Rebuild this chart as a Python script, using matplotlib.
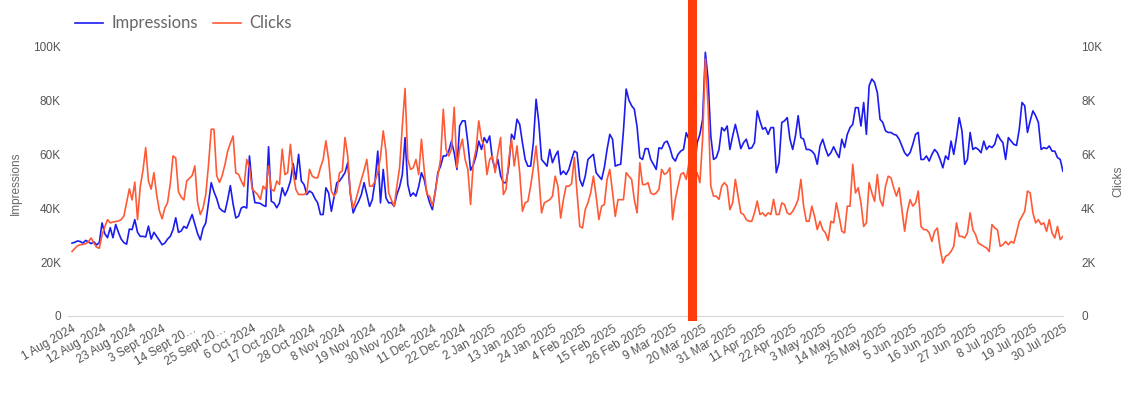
import pandas as pd
import matplotlib
matplotlib.use('Agg')
import matplotlib.pyplot as plt
import matplotlib.ticker as mticker

plt.rcParams['font.family'] = ['Liberation Sans', 'DejaVu Sans']

# daily values, 1 Aug 2024 - 30 Jul 2025 (thousands)
start_date = '2024-08-01'

impressions_k = [
    # Aug
    27.0, 27.3, 27.8, 27.6, 27.0, 28.0, 27.5, 26.8, 27.5, 26.3, 27.2, 34.5, 30.5, 29.0, 32.7, 29.0,
    33.9, 31.0, 28.5, 27.2, 26.6, 32.2, 32.0, 35.7, 31.0, 29.5, 29.5, 29.3, 33.3, 28.5, 31.0,
    # Sep
    29.5, 28.0, 26.4, 27.0, 28.5, 29.5, 32.0, 36.4, 31.0, 31.5, 33.2, 32.5, 35.0, 37.6, 34.0,
    30.5, 28.2, 32.5, 34.5, 42.0, 49.4, 46.0, 43.5, 40.0, 39.0, 38.5, 43.0, 48.3, 41.5, 36.3,
    # Oct
    37.0, 40.0, 40.5, 40.0, 59.3, 48.0, 42.0, 41.9, 41.7, 41.0, 40.6, 62.7, 42.5, 41.9, 40.1, 41.9,
    47.5, 44.6, 46.8, 50.0, 56.5, 50.6, 59.9, 50.0, 48.7, 45.0, 46.3, 45.6, 43.5, 41.9, 37.6,
    # Nov
    37.6, 47.5, 45.6, 38.8, 44.0, 49.4, 50.0, 51.5, 53.1, 56.8, 45.0, 38.2, 40.6, 42.5, 45.0,
    49.4, 45.0, 40.6, 43.1, 50.0, 61.1, 41.9, 54.3, 43.8, 41.9, 42.0, 40.6, 45.0, 47.9, 52.4,
    # Dec
    66.1, 48.7, 44.4, 45.6, 44.4, 48.0, 53.1, 50.6, 45.6, 42.0, 39.4, 45.6, 53.1, 55.5, 59.3, 59.3,
    61.1, 64.8, 60.5, 54.3, 70.4, 72.3, 72.3, 64.2, 54.0, 56.0, 59.3, 64.8, 61.7, 66.1, 64.2,
    # Jan
    66.7, 58.0, 54.3, 58.0, 52.0, 49.4, 49.4, 55.5, 67.3, 65.5, 72.9, 71.0, 64.2, 58.0, 55.5, 55.5,
    64.2, 80.3, 71.7, 58.0, 56.8, 55.5, 61.7, 56.8, 59.3, 61.1, 52.4, 53.7, 52.4, 54.3, 58.0,
    # Feb
    61.1, 60.5, 50.6, 48.1, 51.8, 58.0, 59.0, 59.9, 53.1, 51.8, 50.6, 55.0, 61.7, 67.3,
    65.5, 55.5, 56.0, 56.2, 68.6, 84.1, 80.0, 77.9, 76.6, 70.0, 58.7, 58.0, 62.0, 62.0,
    # Mar
    58.0, 56.2, 54.3, 62.3, 62.0, 64.2, 64.8, 62.3, 58.7, 57.4, 59.9, 61.1, 61.7, 67.9, 65.5, 61.7,
    54.3, 64.2, 67.3, 72.9, 97.7, 87.8, 66.7, 58.0, 58.7, 61.7, 69.8, 68.6, 70.4, 61.7, 66.7,
    # Apr
    71.0, 66.7, 62.0, 64.2, 65.5, 62.0, 62.3, 64.2, 76.0, 72.3, 69.2, 69.8, 67.3, 69.8, 69.8,
    53.1, 56.8, 71.7, 72.3, 73.5, 65.5, 61.7, 66.7, 74.2, 66.1, 65.5, 61.7, 61.7, 61.1, 59.9,
    # May
    56.2, 63.0, 65.5, 62.0, 59.3, 60.5, 62.7, 60.5, 58.7, 65.5, 62.4, 67.3, 69.8, 71.0, 77.2, 77.2,
    70.4, 79.1, 67.3, 85.3, 87.8, 86.5, 82.8, 72.9, 71.7, 68.6, 68.0, 68.0, 67.3, 67.0, 65.5,
    # Jun
    63.0, 60.5, 59.3, 60.5, 63.6, 67.3, 68.0, 58.0, 58.0, 59.3, 57.4, 59.9, 61.7, 60.5, 58.0,
    54.9, 59.3, 58.0, 64.8, 59.9, 66.1, 73.5, 68.6, 56.2, 58.0, 68.0, 61.7, 62.4, 61.7, 60.5,
    # Jul
    64.8, 61.7, 63.0, 62.4, 63.6, 67.3, 65.5, 64.2, 58.0, 66.1, 64.8, 63.6, 63.2, 69.2, 79.1,
    77.9, 68.0, 72.3, 76.0, 74.2, 71.7, 61.7, 62.4, 62.0, 63.0, 61.1, 61.1, 58.7, 58.0, 53.6,
]

clicks_k = [
    # Aug
    2.39, 2.50, 2.60, 2.64, 2.65, 2.68, 2.75, 2.89, 2.70, 2.55, 2.51, 3.00, 3.30, 3.57, 3.45, 3.48,
    3.50, 3.52, 3.57, 3.70, 4.20, 4.71, 4.30, 4.96, 3.57, 4.80, 5.40, 6.24, 5.00, 4.70, 5.31,
    # Sep
    4.50, 3.90, 3.60, 4.00, 4.20, 4.90, 5.93, 5.85, 4.60, 4.40, 4.30, 5.00, 5.10, 5.20, 5.56,
    4.20, 3.76, 4.00, 4.50, 5.60, 6.92, 6.92, 5.20, 4.95, 5.20, 5.60, 6.10, 6.40, 6.67, 5.30,
    # Oct
    5.25, 5.00, 4.80, 5.80, 5.50, 4.70, 4.60, 4.50, 4.32, 4.81, 4.69, 5.56, 4.69, 4.63, 5.00, 4.87,
    6.18, 5.24, 5.31, 6.36, 5.31, 4.69, 4.50, 4.50, 4.50, 4.56, 5.43, 5.18, 5.12, 5.12, 5.50,
    # Nov
    5.80, 6.49, 5.80, 4.63, 4.44, 4.60, 5.31, 5.37, 6.61, 5.93, 4.50, 4.00, 4.32, 4.69, 5.06,
    5.40, 5.80, 4.81, 4.81, 5.00, 5.31, 5.90, 6.86, 6.11, 4.56, 4.30, 4.07, 4.81, 5.50, 7.04,
    # Dec
    8.43, 5.80, 5.43, 5.49, 5.80, 5.24, 6.55, 5.43, 4.50, 4.44, 4.07, 4.56, 5.20, 5.80, 7.66, 6.18,
    5.93, 6.18, 7.73, 5.50, 6.18, 6.55, 5.80, 5.43, 4.13, 5.68, 6.18, 7.23, 6.55, 6.30, 5.24,
    # Jan
    5.80, 5.93, 5.31, 6.05, 6.61, 4.50, 4.69, 5.80, 6.55, 5.56, 6.30, 5.31, 3.88, 4.19, 4.25, 4.81,
    5.50, 6.30, 5.18, 3.82, 4.19, 4.25, 4.31, 4.44, 5.18, 4.81, 3.63, 4.31, 4.81, 4.81, 4.90,
    # Feb
    5.87, 4.56, 3.32, 3.26, 3.94, 4.20, 4.56, 5.18, 4.44, 3.57, 4.07, 4.13, 5.06, 5.43,
    4.60, 3.69, 4.31, 4.31, 4.31, 5.31, 5.18, 5.06, 4.30, 3.82, 5.68, 4.87, 4.87, 4.94,
    # Mar
    4.56, 4.50, 4.56, 4.69, 5.43, 5.25, 5.31, 5.49, 3.57, 4.32, 4.81, 5.25, 5.31, 5.06, 5.68, 6.30,
    4.94, 5.31, 4.94, 6.55, 9.52, 7.79, 4.81, 4.44, 4.44, 4.32, 4.81, 4.94, 4.81, 3.94, 4.19,
    # Apr
    5.06, 4.44, 3.82, 3.76, 3.57, 3.51, 3.51, 3.82, 4.26, 3.76, 3.82, 3.70, 3.82, 3.76, 4.32,
    3.76, 3.76, 4.19, 4.13, 3.82, 3.76, 3.88, 4.07, 4.32, 5.06, 4.07, 3.51, 3.51, 4.07, 3.70,
    # May
    3.20, 3.51, 3.20, 3.08, 2.80, 3.51, 3.45, 4.19, 3.69, 3.14, 3.08, 4.07, 4.07, 5.62, 4.56, 4.75,
    4.19, 3.32, 3.45, 4.94, 4.56, 4.25, 5.24, 4.31, 4.07, 4.81, 5.18, 5.12, 4.75, 4.44, 4.75,
    # Jun
    3.94, 3.14, 3.88, 4.31, 4.07, 4.19, 4.63, 3.32, 3.20, 3.20, 3.08, 2.76, 3.14, 3.26, 2.50,
    1.96, 2.21, 2.27, 2.39, 2.58, 3.45, 2.95, 2.95, 2.89, 3.08, 3.82, 3.20, 3.01, 2.70, 2.64,
    # Jul
    2.58, 2.52, 2.39, 3.39, 3.26, 3.20, 2.58, 2.64, 2.76, 2.64, 2.76, 2.70, 3.08, 3.51, 3.69,
    3.88, 4.63, 4.56, 3.82, 3.45, 3.57, 3.39, 3.45, 3.14, 3.57, 3.08, 2.89, 3.32, 2.83, 2.95,
]

tick_labels = [
    '1 Aug 2024', '12 Aug 2024', '23 Aug 2024', '3 Sept 2024', '14 Sept 20…', '25 Sept 20…',
    '6 Oct 2024', '17 Oct 2024', '28 Oct 2024', '8 Nov 2024', '19 Nov 2024', '30 Nov 2024',
    '11 Dec 2024', '22 Dec 2024', '2 Jan 2025', '13 Jan 2025', '24 Jan 2025', '4 Feb 2025',
    '15 Feb 2025', '26 Feb 2025', '9 Mar 2025', '20 Mar 2025', '31 Mar 2025', '11 Apr 2025',
    '22 Apr 2025', '3 May 2025', '14 May 2025', '25 May 2025', '5 Jun 2025', '16 Jun 2025',
    '27 Jun 2025', '8 Jul 2025', '19 Jul 2025', '30 Jul 2025',
]

event_date = '2025-03-16'

blue = '#1c1cf0'
orange = '#ff5a36'
text_grey = '#555555'

dates = pd.date_range(start_date, periods=len(impressions_k), freq='D')
tick_dates = pd.date_range(start_date, periods=len(tick_labels), freq='11D')

fig = plt.figure(figsize=(11.32, 3.94), dpi=100)
ax = fig.add_axes([0.060, 0.198, 0.879, 0.685])
ax2 = ax.twinx()

ax.plot(dates, impressions_k, color=blue, lw=1.2, label='Impressions')
ax2.plot(dates, clicks_k, color=orange, lw=1.2, label='Clicks')

# event marker
ax2.axvline(pd.Timestamp(event_date), ymin=0, ymax=1.18, color='#ff3d0a', lw=6.5,
            clip_on=False, zorder=5)

ax.set_xlim(dates[0] - pd.Timedelta(hours=36), dates[-1])
ax.set_ylim(0, 100)
ax2.set_ylim(0, 10)
ax.set_yticks(range(0, 101, 20))
ax2.set_yticks(range(0, 11, 2))
ax.yaxis.set_major_formatter(mticker.FuncFormatter(lambda v, p: '0' if v == 0 else f'{v:.0f}K'))
ax2.yaxis.set_major_formatter(mticker.FuncFormatter(lambda v, p: '0' if v == 0 else f'{v:.0f}K'))

ax.set_xticks(tick_dates)
ax.set_xticklabels(tick_labels, rotation=30, ha='right', rotation_mode='anchor')

for a in (ax, ax2):
    for s in a.spines.values():
        s.set_visible(False)
    a.tick_params(length=0, labelsize=8.5, labelcolor=text_grey)
ax.spines['bottom'].set_visible(True)
ax.spines['bottom'].set_color('#d6d6d6')
ax.tick_params(axis='y', pad=5)
ax.tick_params(axis='x', pad=5)
ax2.tick_params(axis='y', pad=13)

ax.set_ylabel('Impressions', fontsize=8.5, color='#666666')
ax.yaxis.set_label_coords(-0.046, 0.49)
ax2.set_ylabel('Clicks', fontsize=8.5, color='#666666')
ax2.yaxis.set_label_coords(1.050, 0.5)

h1, l1 = ax.get_legend_handles_labels()
h2, l2 = ax2.get_legend_handles_labels()
fig.legend(h1 + h2, l1 + l2, loc='upper left', bbox_to_anchor=(0.060, 0.978), ncol=2,
           frameon=False, handlelength=1.7, handletextpad=0.5,
           columnspacing=0.9, borderaxespad=0, labelcolor='#666666',
           prop={'family': 'Lato', 'size': 12})

fig.savefig('out.png', dpi=100)
